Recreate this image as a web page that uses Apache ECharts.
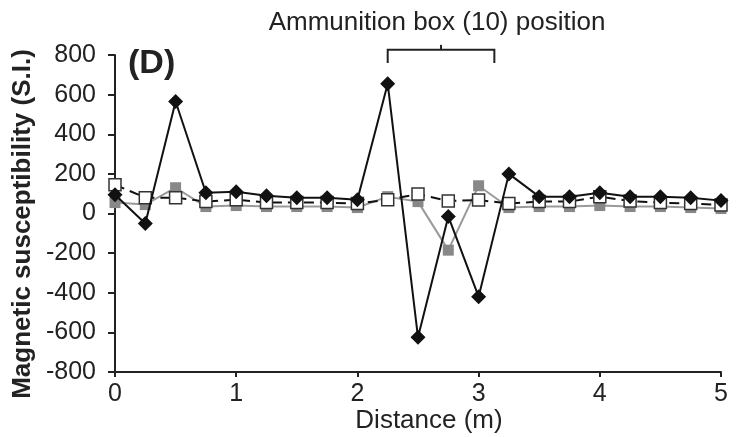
<!DOCTYPE html>
<html><head><meta charset="utf-8">
<script src="https://cdn.jsdelivr.net/npm/echarts@6/dist/echarts.min.js"></script>
<style>html,body{margin:0;padding:0;background:#fff}#c{width:737px;height:437px}</style>
</head><body><div id="c"></div>
<script>
const distances = [0,0.25,0.5,0.75,1,1.25,1.5,1.75,2,2.25,2.5,2.75,3,3.25,3.5,3.75,4,4.25,4.5,4.75,5];
const blackDiamond = [95,-50,565,105,110,90,80,80,70,655,-625,-15,-420,200,85,85,105,85,85,80,65];
const greySquare = [55,45,130,35,40,35,35,35,30,85,60,-185,140,30,35,35,40,35,35,30,25];
const whiteSquare = [145,80,80,60,70,55,55,55,50,70,98,63,68,50,60,60,85,63,55,50,43];
const yTicks = [-800,800,200];
const xTicks = [0,5,1];
const bracketRange = [2.25,3.13];
const bracketLevels = [826,760];
const title = 'Ammunition box (10) position';
const xTitle = 'Distance (m)';
const yTitle = 'Magnetic susceptibility (S.I.)';
const pair = a => a.map((v,i)=>[distances[i],v]);
const FONT = 'Liberation Sans, Arial, sans-serif';
const chart = echarts.init(document.getElementById('c'));
chart.setOption({
  animation:false,
  grid:{left:115,right:16,top:55,bottom:65},
  xAxis:{type:'value',min:xTicks[0],max:xTicks[1],interval:xTicks[2],
    axisLine:{onZero:false,lineStyle:{color:'#222',width:2}},
    axisTick:{show:true,length:5,lineStyle:{color:'#222',width:2}},
    axisLabel:{fontFamily:FONT,fontSize:25,color:'#222',margin:10},
    splitLine:{show:false}},
  yAxis:{type:'value',min:yTicks[0],max:yTicks[1],interval:yTicks[2],
    axisLine:{show:true,lineStyle:{color:'#222',width:2}},
    axisTick:{show:true,length:7,lineStyle:{color:'#222',width:2}},
    axisLabel:{fontFamily:FONT,fontSize:25,color:'#222',margin:19},
    splitLine:{show:false}},
  series:[
    {type:'line',data:pair(greySquare),symbol:'rect',symbolSize:11,
     itemStyle:{color:'#888'},lineStyle:{color:'#9a9a9a',width:2},z:2},
    {type:'line',data:pair(whiteSquare),symbol:'rect',symbolSize:12,
     itemStyle:{color:'#fff',borderColor:'#333',borderWidth:1.5},
     lineStyle:{color:'#111',width:2,type:[10,6]},z:3},
    {type:'line',data:pair(blackDiamond),symbol:'diamond',symbolSize:15,
     itemStyle:{color:'#111'},lineStyle:{color:'#111',width:2},z:4}
  ]
});
const p1 = chart.convertToPixel({gridIndex:0},[bracketRange[0],bracketLevels[0]]);
const p2 = chart.convertToPixel({gridIndex:0},[bracketRange[1],bracketLevels[0]]);
const pd = chart.convertToPixel({gridIndex:0},[bracketRange[0],bracketLevels[1]]);
const mid = (p1[0]+p2[0])/2;
chart.setOption({graphic:[
  {type:'polyline',shape:{points:[[p1[0],pd[1]],[p1[0],p1[1]],[p2[0],p2[1]],[p2[0],pd[1]]]},style:{stroke:'#222',lineWidth:2,fill:null}},
  {type:'line',shape:{x1:mid,y1:p1[1],x2:mid,y2:p1[1]-5},style:{stroke:'#222',lineWidth:2}},
  {type:'text',x:437,y:23,style:{text:title,fontFamily:FONT,fontSize:26,fill:'#222',align:'center',verticalAlign:'middle'}},
  {type:'text',x:429,y:421,style:{text:xTitle,fontFamily:FONT,fontSize:26,fill:'#222',align:'center',verticalAlign:'middle'}},
  {type:'text',x:128,y:64,style:{text:'(D)',fontFamily:FONT,fontSize:34,fontWeight:'bold',fill:'#222',align:'left',verticalAlign:'middle'}},
  {type:'text',x:23,y:224,rotation:Math.PI/2,style:{text:yTitle,fontFamily:FONT,fontSize:26,fontWeight:'bold',fill:'#222',align:'center',verticalAlign:'middle'}}
]});
</script></body></html>
